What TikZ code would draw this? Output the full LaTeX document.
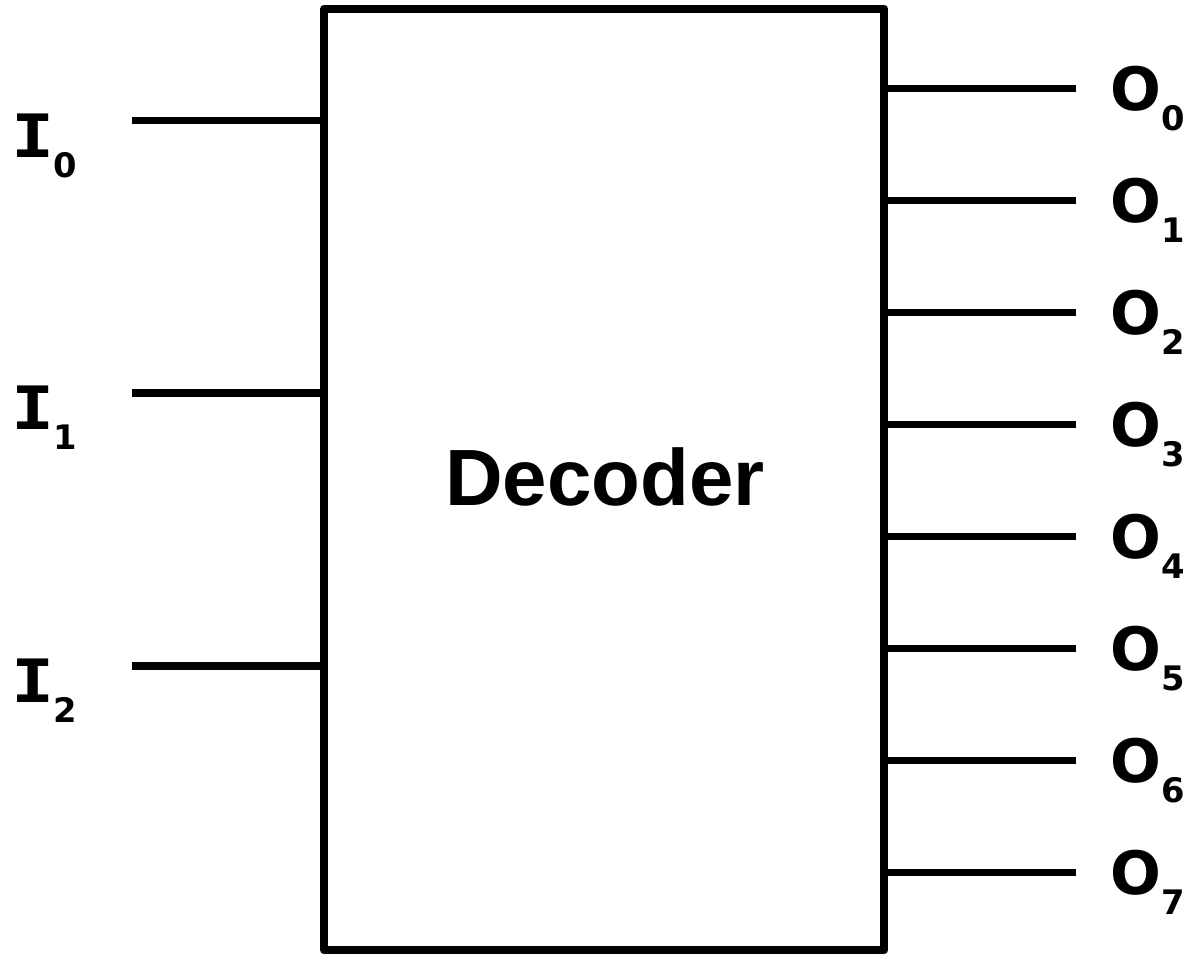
\documentclass[tikz,border=0pt]{standalone}
\usepackage{fontspec}
\setmainfont{Liberation Sans}
\newfontfamily\pinmono{DejaVu Sans Mono}
\newfontfamily\pinsans{DejaVu Sans}
\usetikzlibrary{calc}
% pin label: letter with lowered index
\newcommand{\pinlabel}[3]{{\fontsize{17pt}{20pt}\selectfont\bfseries #1}\hspace{#3}\raisebox{-0.2cm}{\pinsans\fontsize{9.6pt}{11pt}\selectfont\bfseries #2}}

\begin{document}
\begin{tikzpicture}[x=0.01cm,y=-0.01cm,line width=0.075cm,
    pin/.style={anchor=base west,inner sep=0pt}]
  \useasboundingbox (0,0) rectangle (1188,954);
  % the decoder block
  \node[draw,line width=0.08cm,line join=round,inner sep=0pt,
        minimum width=5.595cm,minimum height=9.41cm] (dec) at (604.25,479.5) {};
  \node[anchor=base,inner sep=0pt,font=\fontsize{22.7pt}{26pt}\selectfont\bfseries] (name) at (605,505) {Decoder};
  % inputs
  \foreach \k/\y in {0/120.5,1/393,2/666}{
    \coordinate (in\k) at (132,\y);
    \draw (in\k) -- (in\k -| dec.west);
    \node[pin] (i\k) at (8,\y+36.5) {\pinlabel{\pinmono\scalebox{1.2}[1]{I}}{\k}{-0.01cm}};
  }
  % outputs
  \foreach \k in {0,...,7}{
    \pgfmathsetmacro{\y}{88.5+112*\k}
    \coordinate (out\k) at (1076,\y);
    \draw (out\k -| dec.east) -- (out\k);
    \node[pin] (o\k) at (1107,\y+21.5) {\pinlabel{\pinsans O}{\k}{0cm}};
  }
\end{tikzpicture}
\end{document}
